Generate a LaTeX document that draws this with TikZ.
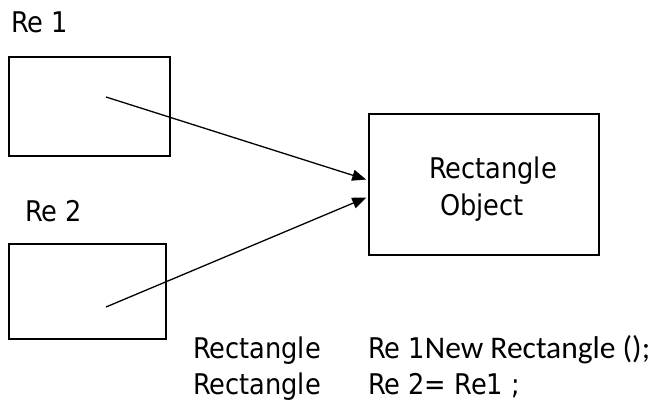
\documentclass[tikz,border=0pt]{standalone}
\usepackage{fontspec}
\setmainfont{DejaVu Sans Condensed}
\newfontfamily\calfont{Carlito}
\usetikzlibrary{arrows.meta}

\begin{document}
\begin{tikzpicture}[
    x = 1pt,
    y = -1pt,
    refbox/.style = {
        draw,
        rectangle,
        inner sep = 0pt
    },
    lbl/.style = {
        anchor = base west,
        inner sep = 0pt,
        font = \fontsize{28.5}{34}\selectfont
    },
    pointer/.style = {
        -{Triangle[length = 14pt, width = 11pt]},
        line width = 1.3pt,
        shorten > = 1.5pt
    }
]
\useasboundingbox (0,0) rectangle (653,401);

% Reference variables
\node[lbl] (re1lbl) at (11,33) {Re 1};
\node[refbox, minimum width = 161pt, minimum height = 99pt, line width = 2pt] (re1) at (89.5,106.5) {};
\node[lbl] (re2lbl) at (25,221) {Re 2};
\node[refbox, minimum width = 157pt, minimum height = 95pt, line width = 1.5pt] (re2) at (87.5,291.5) {};

% Object
\node[refbox, minimum width = 230pt, minimum height = 141pt, line width = 2.7pt] (obj) at (484,184.5) {};
\node[lbl] (objl1) at (429,178) {Rectangle};
\node[lbl] (objl2) at (440,215) {Object};

% References point to the object
\coordinate (re1ref) at (106,97);
\coordinate (re2ref) at (106,307);
\draw[pointer] (re1ref) -- ([yshift = 4.5pt]obj.west);
\draw[pointer] (re2ref) -- ([yshift = -12.5pt]obj.west);

% Code
\node[lbl] (decl1a) at (193,358) {Rectangle};
\node[lbl] (decl1b) at (368,358) {Re 1{\calfont\fontsize{31.5}{34}\selectfont New Rectangle ();}};
\node[lbl] (decl2a) at (193,394) {Rectangle};
\node[lbl] (decl2b) at (368,394) {Re 2= Re1 ;};

\end{tikzpicture}
\end{document}
